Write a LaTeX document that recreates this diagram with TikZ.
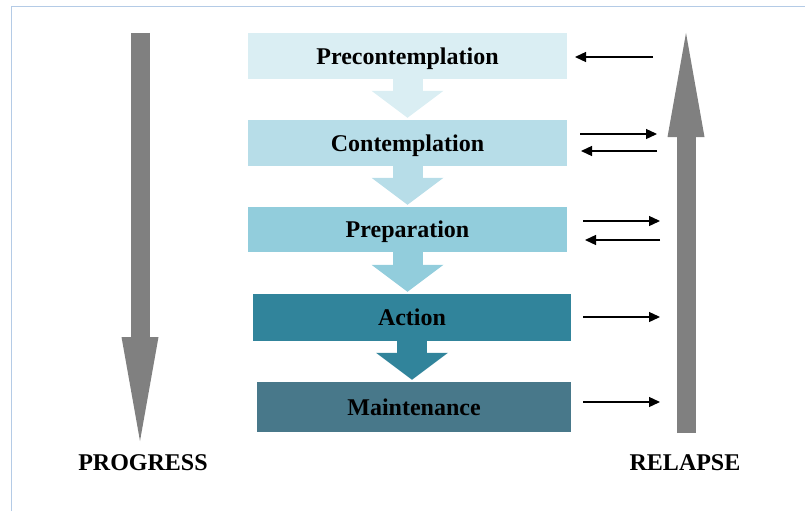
\documentclass[tikz,border=0pt]{standalone}
\usepackage{fontspec}
\setmainfont{Liberation Serif}
\usetikzlibrary{arrows.meta, positioning}
\definecolor{precol}{HTML}{DAEEF3}
\definecolor{concol}{HTML}{B7DDE8}
\definecolor{prepcol}{HTML}{92CDDC}
\definecolor{actcol}{HTML}{31849B}
\definecolor{maicol}{HTML}{48788A}
\definecolor{trendcol}{HTML}{808080}
\definecolor{framecol}{HTML}{B4CBE6}
\tikzstyle{stage} = [rectangle, inner sep=0pt, text=black, font=\bfseries\fontsize{24}{28}\selectfont, text height=16pt, text depth=0pt]
\tikzstyle{flow} = [line width=30pt, shorten >=2pt, -{Triangle[length=27pt, width=72pt, line width=0pt]}]
\tikzstyle{trend} = [trendcol, line width=19pt, -{Triangle[length=104pt, width=37pt, line width=0pt]}]
\tikzstyle{swap} = [black, line width=1.3pt, -{Triangle[length=11pt, width=10pt]}]
\tikzstyle{sidelabel} = [text=black, font=\bfseries\fontsize{24}{28}\selectfont, inner sep=0pt]

\begin{document}
\begin{tikzpicture}[x=1pt, y=-1pt]
	\useasboundingbox (0,0) rectangle (805,511);
	\draw[framecol, line width=1.5pt] (11.5,511) -- (11.5,6.5) -- (805,6.5);
	% stages
	\node[stage, fill=precol, minimum width=319pt, minimum height=46pt] (pre) at (407.5,56) {Precontemplation};
	\node[stage, fill=concol, minimum width=319pt, minimum height=46pt] (con) at (407.5,143) {Contemplation};
	\node[stage, fill=prepcol, minimum width=319pt, minimum height=45pt] (prep) at (407.5,229.5) {Preparation};
	\node[stage, fill=actcol, minimum width=318pt, minimum height=47pt] (act) at (412,317.5) {Action};
	\node[stage, fill=maicol, minimum width=314pt, minimum height=50pt] (mai) at (414,407) {Maintenance};
	\draw[flow, precol] (pre.south) -- (con.north);
	\draw[flow, concol] (con.south) -- (prep.north);
	\draw[flow, prepcol] (prep.south) -- (prep.south |- act.north);
	\draw[flow, actcol] (act.south) -- (act.south |- mai.north);
	% progress and relapse
	\coordinate (pgtop) at (140,33);
	\coordinate (pgend) at (140,441);
	\coordinate (rlbot) at (686,433);
	\coordinate (rltop) at (686,33);
	\draw[trend] (pgtop) -- (pgend);
	\draw[trend] (rlbot) -- (rltop);
	\node[sidelabel] (progress) at (143,463) {PROGRESS};
	\node[sidelabel] (relapse) at (685,463) {RELAPSE};
	% side arrows
	\coordinate (pre1) at (653,57);
	\coordinate (pre2) at (575,57);
	\coordinate (con1) at (580,134);
	\coordinate (con2) at (657,134);
	\coordinate (con3) at (657,151);
	\coordinate (con4) at (581,151);
	\coordinate (prep1) at (583,221);
	\coordinate (prep2) at (660,221);
	\coordinate (prep3) at (660,240);
	\coordinate (prep4) at (585,240);
	\coordinate (act1) at (583,317);
	\coordinate (act2) at (660,317);
	\coordinate (mai1) at (583,402);
	\coordinate (mai2) at (660,402);
	\draw[swap] (pre1) -- (pre2);
	\draw[swap] (con1) -- (con2);
	\draw[swap] (con3) -- (con4);
	\draw[swap] (prep1) -- (prep2);
	\draw[swap] (prep3) -- (prep4);
	\draw[swap] (act1) -- (act2);
	\draw[swap] (mai1) -- (mai2);
\end{tikzpicture}
\end{document}
